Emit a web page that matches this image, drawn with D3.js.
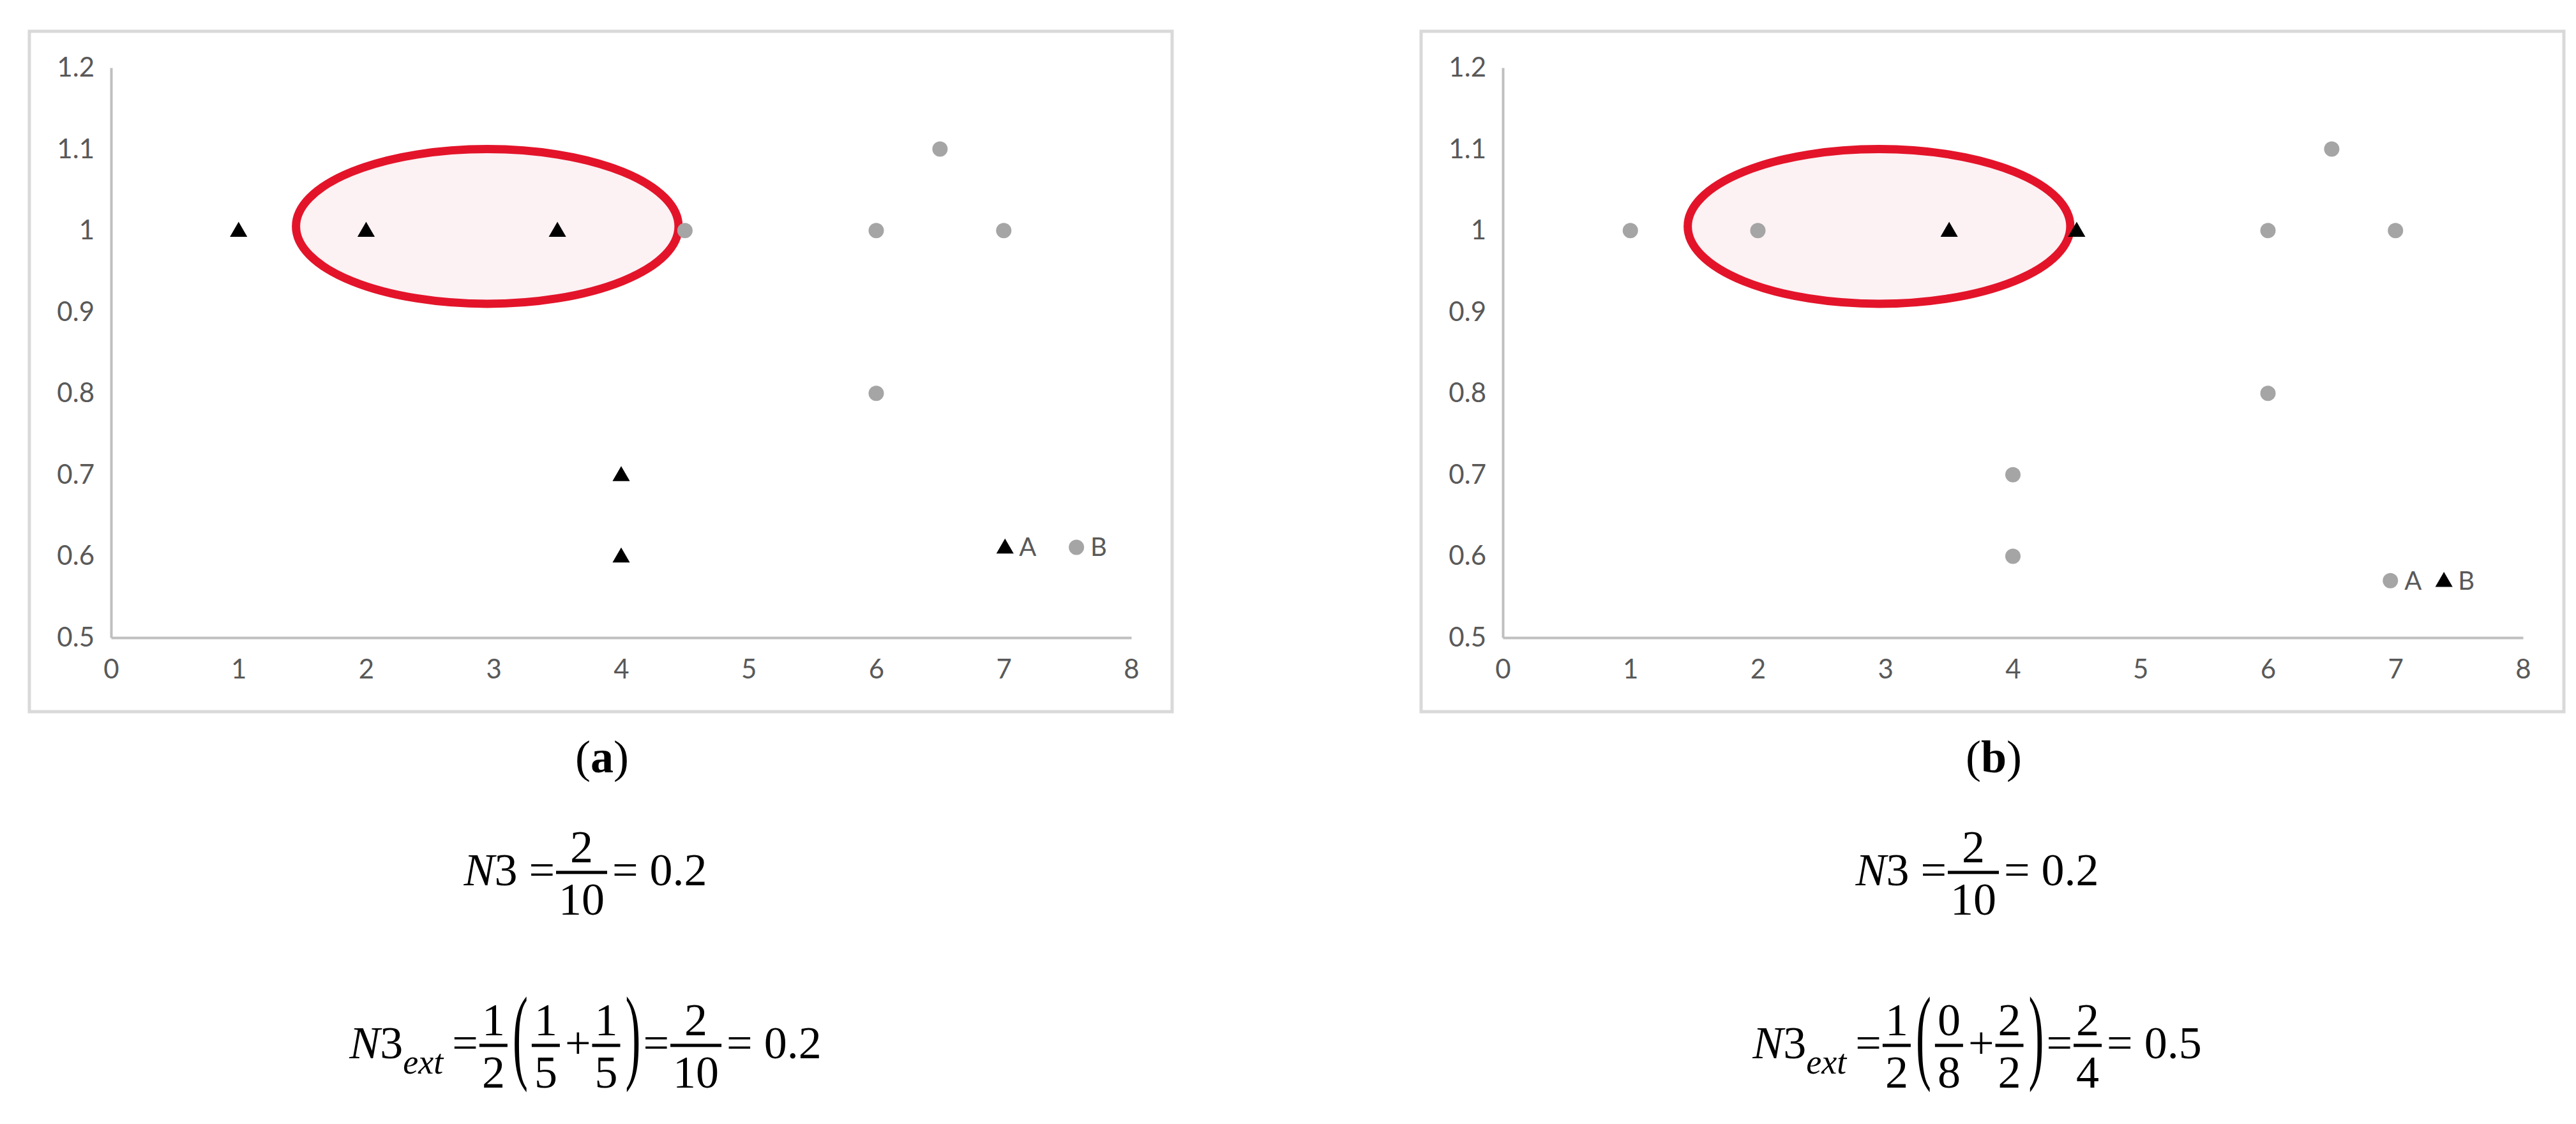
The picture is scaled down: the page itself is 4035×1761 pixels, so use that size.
<!DOCTYPE html>
<html>
<head>
<meta charset="utf-8">
<script src="https://cdn.jsdelivr.net/npm/d3@7"></script>
<style>
  body { margin: 0; background: #fff; }
  .tick text { font-family: Lato, "Open Sans", sans-serif; fill: #595959; }
</style>
</head>
<body>
<div id="chart"></div>
<script>
// Data
var xTicks = [0, 1, 2, 3, 4, 5, 6, 7, 8];
var yTicks = [0.5, 0.6, 0.7, 0.8, 0.9, 1, 1.1, 1.2];

var aTriangles = [[1, 1], [2, 1], [3.5, 1], [4, 0.7], [4, 0.6]];
var aCircles = [[4.5, 1], [6, 1], [6.5, 1.1], [7, 1], [6, 0.8]];

var bCircles = [[1, 1], [2, 1], [4, 0.7], [4, 0.6], [6, 1], [6.5, 1.1], [7, 1], [6, 0.8]];
var bTriangles = [[3.5, 1], [4.5, 1]];

// ellipse: center x, center y, radius x, radius y (data units)
var ellipseData = [2.95, 1.005, 1.5, 0.095];

var legendA = [{ shape: "tri", label: "A", x: 7.01, y: 0.611 }, { shape: "dot", label: "B", x: 7.57, y: 0.611 }];
var legendB = [{ shape: "dot", label: "A", x: 6.96, y: 0.57 }, { shape: "tri", label: "B", x: 7.38, y: 0.57 }];

var captions = ["a", "b"];

var svgWidth = 4035, svgHeight = 1761;
var svg = d3.select("#chart").append("svg")
  .attr("width", svgWidth)
  .attr("height", svgHeight);

var grey = "#a5a5a5";
var triPath = d3.symbol().type(d3.symbolTriangle).size(320)();

function drawPanel(left, tris, dots, legend, caption) {
  var boxW = 1790;
  var g = svg.append("g").attr("transform", `translate(${left}, 0)`);

  g.append("rect")
    .attr("x", 2).attr("y", 49)
    .attr("width", boxW).attr("height", 1066)
    .attr("fill", "white")
    .attr("stroke", "#d9d9d9")
    .attr("stroke-width", 5);

  var x = d3.scaleLinear().domain([0, 8]).range([130, 1728]);
  var y = d3.scaleLinear().domain([0.5, 1.2]).range([999, 106]);

  var xAxis = g.append("g")
    .attr("transform", "translate(0, 999)")
    .call(d3.axisBottom(x).tickValues(xTicks).tickSize(0).tickPadding(34).tickFormat(d3.format("d")));
  xAxis.select(".domain").attr("stroke", "#bfbfbf").attr("stroke-width", 4);
  xAxis.selectAll("text").attr("font-size", 42);

  var yAxis = g.append("g")
    .attr("transform", "translate(130, 0)")
    .call(d3.axisLeft(y).tickValues(yTicks).tickSize(0).tickPadding(26).tickFormat(d => String(d)));
  yAxis.select(".domain").attr("stroke", "#bfbfbf").attr("stroke-width", 4);
  yAxis.selectAll("text").attr("font-size", 42);

  // ellipse behind points
  g.append("ellipse")
    .attr("cx", x(ellipseData[0]))
    .attr("cy", y(ellipseData[1]))
    .attr("rx", x(ellipseData[0] + ellipseData[2]) - x(ellipseData[0]))
    .attr("ry", y(ellipseData[1] - ellipseData[3]) - y(ellipseData[1]))
    .attr("fill", "#fcf1f3")
    .attr("stroke", "#e3142a")
    .attr("stroke-width", 13);

  g.selectAll(".dot").data(dots).enter().append("circle")
    .attr("cx", d => x(d[0])).attr("cy", d => y(d[1]))
    .attr("r", 12).attr("fill", grey);

  g.selectAll(".tri").data(tris).enter().append("path")
    .attr("d", triPath)
    .attr("transform", d => `translate(${x(d[0])}, ${y(d[1]) + 2})`)
    .attr("fill", "black");

  // legend
  legend.forEach(function(l) {
    if (l.shape === "tri") {
      g.append("path").attr("d", triPath)
        .attr("transform", `translate(${x(l.x)}, ${y(l.y) + 2})`).attr("fill", "black");
    } else {
      g.append("circle").attr("cx", x(l.x)).attr("cy", y(l.y)).attr("r", 12).attr("fill", grey);
    }
    g.append("text")
      .attr("x", x(l.x) + 22).attr("y", y(l.y) + 14)
      .attr("font-family", "Lato, sans-serif").attr("font-size", 40)
      .attr("fill", "#595959")
      .text(l.label);
  });

  // caption
  var cap = g.append("text")
    .attr("x", boxW / 2 + 4).attr("y", 1210)
    .attr("text-anchor", "middle")
    .attr("font-family", "Liberation Serif, serif").attr("font-size", 72);
  cap.append("tspan").text("(");
  cap.append("tspan").attr("font-weight", "bold").text(caption);
  cap.append("tspan").text(")");
  return g;
}

// equation layout: items laid out left to right, then centered
var fs = 72;
function drawEquation(g, cx, baseline, items) {
  var eq = g.append("g");
  var cursor = 0;
  var bar = baseline - 0.28 * fs;
  function txt(s, xx, yy, opts) {
    opts = opts || {};
    var t = eq.append("text")
      .attr("x", xx).attr("y", yy)
      .attr("font-family", "Liberation Serif, serif")
      .attr("font-size", opts.size || fs)
      .attr("font-style", opts.italic ? "italic" : "normal")
      .attr("text-anchor", opts.anchor || "start")
      .text(s);
    return t;
  }
  items.forEach(function(it) {
    if (it.frac) {
      var n = txt(it.frac[0], 0, 0), d = txt(it.frac[1], 0, 0);
      var w = Math.max(n.node().getComputedTextLength(), d.node().getComputedTextLength()) + 12;
      n.attr("x", cursor + w / 2).attr("y", bar - 16).attr("text-anchor", "middle");
      d.attr("x", cursor + w / 2).attr("y", bar + 66).attr("text-anchor", "middle");
      eq.append("rect").attr("x", cursor + 2).attr("y", bar - 2.5).attr("width", w - 4).attr("height", 5);
      cursor += w + 6;
    } else if (it.paren) {
      var p = txt(it.paren, 0, 0);
      var pw = p.node().getComputedTextLength();
      p.attr("transform", `translate(${cursor}, ${bar + 0.8 * fs}) scale(1, 2.3)`)
        .attr("y", -0.0 * fs).attr("dy", -0.12 * fs + "px");
      cursor += pw + 4;
    } else {
      var t = txt(it.t, cursor, it.sub ? baseline + 24 : baseline, { italic: it.italic, size: it.sub ? 54 : fs });
      cursor += t.node().getComputedTextLength() + (it.gap || 0);
    }
  });
  eq.attr("transform", `translate(${cx - cursor / 2}, 0)`);
}

var left = [44, 2224];
var triSets = [aTriangles, bTriangles], dotSets = [aCircles, bCircles], legends = [legendA, legendB];
var ext = [
  [{ frac: ["1", "5"] }, { t: " + " }, { frac: ["1", "5"] }, { paren: ")" }, { t: " = " }, { frac: ["2", "10"] }, { t: " = 0.2" }],
  [{ frac: ["0", "8"] }, { t: " + " }, { frac: ["2", "2"] }, { paren: ")" }, { t: " = " }, { frac: ["2", "4"] }, { t: " = 0.5" }]
];

for (var i = 0; i < 2; i++) {
  var g = drawPanel(left[i], triSets[i], dotSets[i], legends[i], captions[i]);
  drawEquation(g, 873, 1387, [{ t: "N", italic: true }, { t: "3 = " }, { frac: ["2", "10"] }, { t: " = 0.2" }]);
  drawEquation(g, 873, 1658, [{ t: "N", italic: true }, { t: "3" }, { t: "ext", italic: true, sub: true, gap: 14 }, { t: " = " },
    { frac: ["1", "2"] }, { paren: "(" }].concat(ext[i]));
}
</script>
</body>
</html>
